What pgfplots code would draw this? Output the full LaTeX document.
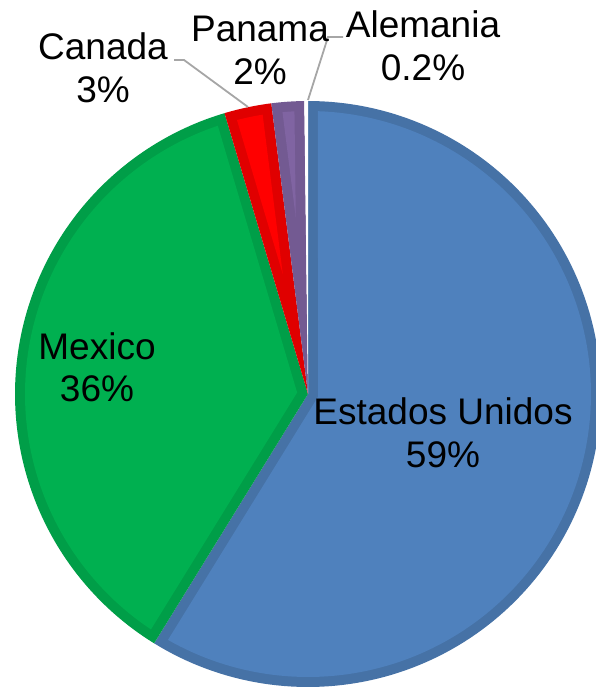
\documentclass[border=0pt]{standalone}
\usepackage{pgfplots}
\usepackage{pgfplotstable}
\pgfplotsset{compat=1.18}
\usepackage{fontspec}
\setmainfont{Liberation Sans}

\definecolor{eu}{HTML}{4F81BD}
\definecolor{mx}{HTML}{00B050}
\definecolor{ca}{HTML}{FF0000}
\definecolor{pa}{HTML}{8064A2}
\definecolor{leader}{HTML}{A6A6A6}

% share of each country, clockwise from 12 o'clock
\pgfplotstableread{
country value
EstadosUnidos 58.8
Mexico 36.6
Canada 2.6
Panama 1.8
Alemania 0.2
}\piedata

% pie centre, radius and border width (axis units = px)
\def\cx{308}\def\cy{295}\def\R{293}\def\d{10}

\tikzset{lbl/.style={font=\fontsize{37}{44}\selectfont, anchor=base, inner sep=0pt}}

% one wedge: dark outer fill, lighter inset on top
\newcommand\slice[3]{%
  \pgfmathsetmacro\A{\csname sa#1\endcsname}%
  \pgfmathsetmacro\B{\csname sb#1\endcsname}%
  \addplot[draw=none, fill=#3, domain=\B:\A, samples=150]
    ({\cx+\R*cos(x)},{\cy+\R*sin(x)}) -- (\cx,\cy) -- cycle;
  \pgfmathsetmacro\hw{(\A-\B)/2}%
  \pgfmathsetmacro\dl{asin(\d/(\R-\d))}%
  \pgfmathparse{\hw>\dl+0.5 ? 1 : 0}%
  \ifnum\pgfmathresult=1
    \pgfmathsetmacro\px{\cx+\d/sin(\hw)*cos((\A+\B)/2)}%
    \pgfmathsetmacro\py{\cy+\d/sin(\hw)*sin((\A+\B)/2)}%
    \pgfmathsetmacro\ia{\B+\dl}%
    \pgfmathsetmacro\ib{\A-\dl}%
    \edef\tmp{\noexpand\addplot[draw=none, fill=#2, domain=\ia:\ib, samples=150]
      ({\cx+(\R-\d)*cos(x)},{\cy+(\R-\d)*sin(x)}) -- (\px,\py) -- cycle;}%
    \tmp
  \fi
}

\begin{document}
\begin{tikzpicture}
\xdef\cum{90}
\foreach \i in {0,...,4}{%
  \pgfplotstablegetelem{\i}{value}\of\piedata
  \pgfmathsetmacro\b{\cum-3.6*\pgfplotsretval}%
  \expandafter\xdef\csname sa\i\endcsname{\cum}%
  \expandafter\xdef\csname sb\i\endcsname{\b}%
  \xdef\cum{\b}%
}
\begin{axis}[
    scale only axis,
    width=596pt, height=689pt,
    xmin=0, xmax=596, ymin=0, ymax=689,
    hide axis,
    clip mode=individual,
  ]
  \slice{0}{eu}{eu!88!black}
  \slice{1}{mx}{mx!90!black}
  \slice{2}{ca}{ca!88!black}
  \slice{3}{pa}{pa!90!black}
  \slice{4}{white}{white}

  % leader lines
  \draw[leader, line width=1.8pt] (axis cs:174,629) -- (axis cs:184,629) -- (axis cs:248,582);
  \draw[leader, line width=1.8pt] (axis cs:343,652) -- (axis cs:328,652) -- (axis cs:308,589);

  % labels
  \node[lbl] at (axis cs:443,264) {Estados Unidos};
  \node[lbl] at (axis cs:443,221) {59\%};
  \node[lbl] at (axis cs:97,329) {Mexico};
  \node[lbl] at (axis cs:97,287) {36\%};
  \node[lbl] at (axis cs:103,629) {Canada};
  \node[lbl] at (axis cs:103,586) {3\%};
  \node[lbl] at (axis cs:260,647) {Panama};
  \node[lbl] at (axis cs:260,604) {2\%};
  \node[lbl] at (axis cs:423,651) {Alemania};
  \node[lbl] at (axis cs:423,608) {0.2\%};
\end{axis}
\pgfresetboundingbox
\path[use as bounding box] (current axis.south west) rectangle (current axis.north east);
\end{tikzpicture}
\end{document}
